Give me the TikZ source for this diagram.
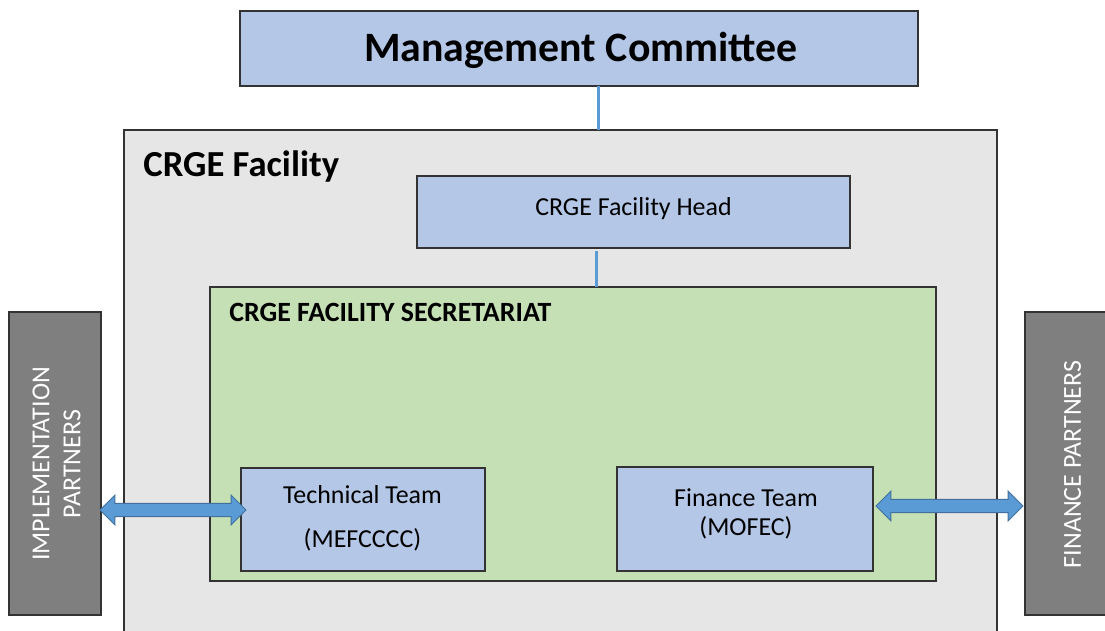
\documentclass[tikz,border=0pt]{standalone}
\usepackage{fontspec}
\setmainfont{Carlito}
\usetikzlibrary{calc}

\definecolor{boxblue}{HTML}{B4C7E7}
\definecolor{facgray}{HTML}{E7E6E6}
\definecolor{secgreen}{HTML}{C5E0B4}
\definecolor{partgray}{HTML}{7F7F7F}
\definecolor{linkblue}{HTML}{5B9BD5}
\definecolor{linkedge}{HTML}{41719C}
\definecolor{edgegray}{HTML}{333333}

% one unit = one pixel of the 1105 x 630 drawing
\def\pxu{0.567pt}

% block arrow with heads at both ends, from point #1 to point #2 (same height)
\newcommand\twowayarrow[2]{%
  \draw[fatarrow] let \p1=(#1), \p2=(#2) in
    (\x1,\y1) -- (\x1+8.5pt,\y1+8.5pt) -- (\x1+8.5pt,\y1+3.8pt) --
    (\x2-8.5pt,\y1+3.8pt) -- (\x2-8.5pt,\y1+8.5pt) -- (\x2,\y1) --
    (\x2-8.5pt,\y1-8.5pt) -- (\x2-8.5pt,\y1-3.8pt) --
    (\x1+8.5pt,\y1-3.8pt) -- (\x1+8.5pt,\y1-8.5pt) -- cycle;}

\begin{document}
\begin{tikzpicture}[x=0.567pt, y=-0.567pt,
  frame/.style={draw=edgegray, line width=1.2*\pxu, inner sep=0pt, outer sep=0pt, rectangle},
  bluebox/.style={frame, fill=boxblue},
  partner/.style={frame, fill=partgray},
  link/.style={draw=linkblue, line width=3*\pxu},
  txt/.style={inner sep=0pt, font=\fontsize{14.7}{17.5}\selectfont},
  parttxt/.style={inner sep=0pt, text=white, align=center, rotate=90,
                  font=\fontsize{14.7}{17.6}\selectfont},
  fatarrow/.style={draw=linkedge, fill=linkblue, line width=1*\pxu, line join=miter}
]
\clip (0,0) rectangle (1105,630);
\fill[white] (0,0) rectangle (1105,630);

% containers
\node[frame, fill=facgray, minimum width=873*\pxu, minimum height=540*\pxu] (fac) at (560.5,400) {};
\node[frame, fill=secgreen, minimum width=726*\pxu, minimum height=294*\pxu] (sec) at (573,434) {};

% boxes
\node[bluebox, minimum width=678*\pxu, minimum height=75*\pxu] (mc) at (579,48.5) {};
\node[bluebox, minimum width=433*\pxu, minimum height=72*\pxu] (head) at (633.5,212) {};
\node[bluebox, minimum width=244*\pxu, minimum height=103*\pxu] (tech) at (363,519.5) {};
\node[bluebox, minimum width=256*\pxu, minimum height=104*\pxu] (fin) at (745,519) {};
\node[partner, minimum width=92*\pxu, minimum height=303*\pxu] (impl) at (55,463.5) {};
\node[partner, minimum width=100*\pxu, minimum height=303*\pxu] (finp) at (1075,463.5) {};

% texts
\node[txt, anchor=base, font=\fontsize{23.7}{29}\selectfont\bfseries] (mctxt) at (581,61) {Management Committee};
\node[txt, anchor=base west, font=\fontsize{20.8}{25}\selectfont\bfseries] (factxt) at (143,176) {CRGE Facility};
\node[txt, anchor=base] (headtxt) at (633.5,215) {CRGE Facility Head};
\node[txt, anchor=base west, font=\fontsize{15.8}{19}\selectfont\bfseries] (sectxt) at (229,321) {CRGE FACILITY SECRETARIAT};
\node[txt, anchor=base] (techa) at (362.5,503) {Technical Team};
\node[txt, anchor=base] (techb) at (362.5,547) {(MEFCCCC)};
\node[txt, anchor=base] (fina) at (746,506) {Finance Team};
\node[txt, anchor=base] (finb) at (746,535.5) {(MOFEC)};
\node[parttxt] (impltxt) at (56.5,464) {IMPLEMENTATION\\PARTNERS};
\node[parttxt] (finptxt) at (1072.5,464.5) {FINANCE PARTNERS};

% reporting lines
\coordinate (c1) at (598,0);
\coordinate (c2) at (596,0);
\draw[link] (mc.south -| c1) -- (fac.north -| c1);
\draw[link, shorten <=3*\pxu] (head.south -| c2) -- (sec.north -| c2);

% two-way links to partners
\coordinate (a1) at (0,510);
\coordinate (a2) at (0,506);
\coordinate (l1) at ($(impl.east |- a1)+(-1,0)$);
\coordinate (l2) at ($(tech.west |- a1)+(5,0)$);
\coordinate (r1) at ($(fin.east |- a2)+(3,0)$);
\coordinate (r2) at ($(finp.west |- a2)+(-2,0)$);
\twowayarrow{l1}{l2}
\twowayarrow{r1}{r2}
\end{tikzpicture}
\end{document}
